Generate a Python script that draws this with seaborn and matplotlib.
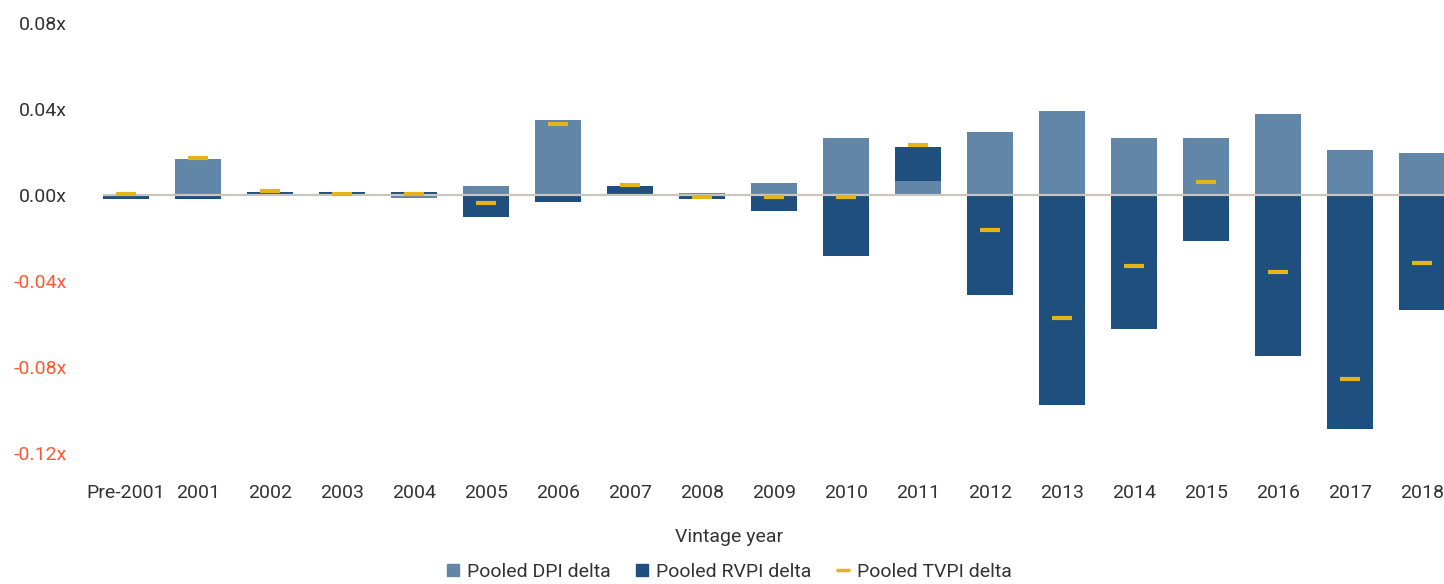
import numpy as np
import pandas as pd
import matplotlib
matplotlib.use("Agg")
import matplotlib.pyplot as plt
import seaborn as sns
from matplotlib import font_manager
from matplotlib.lines import Line2D

# Pooled deltas by vintage year
vintages = ['Pre-2001', '2001', '2002', '2003', '2004', '2005', '2006', '2007', '2008',
            '2009', '2010', '2011', '2012', '2013', '2014', '2015', '2016', '2017', '2018']
dpi_delta = [0.0005, 0.0168, 0.0004, 0.0003, -0.0016, 0.0042, 0.0350, 0.0004, 0.0011,
             0.0056, 0.0266, 0.0065, 0.0294, 0.0393, 0.0266, 0.0266, 0.0379, 0.0210, 0.0196]
rvpi_delta = [-0.0018, -0.0018, 0.0012, 0.0012, 0.0012, -0.0103, -0.0033, 0.0038, -0.0018,
              -0.0075, -0.0285, 0.0159, -0.0467, -0.0977, -0.0621, -0.0215, -0.0748, -0.1089, -0.0537]
tvpi_delta = [0.0006, 0.0174, 0.0019, 0.0006, 0.0006, -0.0037, 0.0332, 0.0046, -0.0009,
              -0.0009, -0.0009, 0.0234, -0.0164, -0.0570, -0.0332, 0.0061, -0.0360, -0.0855, -0.0318]

y_ticks = [-0.12, -0.08, -0.04, 0.0, 0.04, 0.08]

DPI_COLOR = '#6186A8'
RVPI_COLOR = '#1F4F7F'
TVPI_COLOR = '#E2B61A'
TEXT_COLOR = '#333333'
NEG_COLOR = '#FA5A30'

sns.set_theme(style='white')
available = {f.name for f in font_manager.fontManager.ttflist}
font = 'Roboto' if 'Roboto' in available else 'Liberation Sans'
fsize = 14
plt.rcParams['font.family'] = [font, 'DejaVu Sans']

df = pd.DataFrame({'vintage': vintages, 'dpi': dpi_delta, 'rvpi': rvpi_delta, 'tvpi': tvpi_delta})
# Excel-style stacking: positives stack up, negatives stack down
df['pos_top'] = df['dpi'].clip(lower=0) + df['rvpi'].clip(lower=0)
df['neg_bottom'] = df['dpi'].clip(upper=0) + df['rvpi'].clip(upper=0)

fig = plt.figure(figsize=(14.44, 5.84), dpi=100)
ax = fig.add_axes([103 / 1444, 1 - 453 / 584, (1444 - 103) / 1444, 430 / 584])

bar_kw = dict(width=0.64, saturation=1, linewidth=0, ax=ax)
# outer (RVPI) segments first, DPI drawn over them from zero
sns.barplot(data=df, x='vintage', y='pos_top', color=RVPI_COLOR, **bar_kw)
sns.barplot(data=df, x='vintage', y='neg_bottom', color=RVPI_COLOR, **bar_kw)
sns.barplot(data=df, x='vintage', y='dpi', color=DPI_COLOR, **bar_kw)

ax.axhline(0, color='#C9C5C1', linewidth=1.6, zorder=5)

sns.pointplot(data=df, x='vintage', y='tvpi', color=TVPI_COLOR, linestyle='none',
              marker='_', markersize=14, markeredgewidth=3, ax=ax, zorder=6)

ax.set_xlim(-0.32, 18.3)
ax.set_ylim(-0.12, 0.08)
ax.set_yticks(y_ticks)
ax.set_yticklabels([f'{v:.2f}x' for v in y_ticks])
for lbl, v in zip(ax.get_yticklabels(), y_ticks):
    lbl.set_color(NEG_COLOR if v < 0 else TEXT_COLOR)
ax.tick_params(axis='y', length=0, pad=26, labelsize=fsize)
ax.tick_params(axis='x', length=0, pad=22, labelsize=fsize, labelcolor=TEXT_COLOR)
ax.set_xlabel('')
ax.set_ylabel('')
for s in ax.spines.values():
    s.set_visible(False)
ax.grid(False)

fig.text(729 / 1444, 1 - 537 / 584, 'Vintage year', ha='center', va='center',
         fontsize=fsize, color=TEXT_COLOR)

handles = [
    Line2D([], [], marker='s', linestyle='none', color=DPI_COLOR, markersize=9),
    Line2D([], [], marker='s', linestyle='none', color=RVPI_COLOR, markersize=9),
    Line2D([], [], marker='_', linestyle='none', color=TVPI_COLOR, markersize=10, markeredgewidth=2.5),
]
labels = ['Pooled DPI delta', 'Pooled RVPI delta', 'Pooled TVPI delta']
leg = fig.legend(handles, labels, loc='center', bbox_to_anchor=(729 / 1444, 1 - 572 / 584),
                 ncol=3, frameon=False, fontsize=fsize, handlelength=0.7,
                 handletextpad=0.35, columnspacing=1.3, borderaxespad=0)
for t in leg.get_texts():
    t.set_color(TEXT_COLOR)

fig.savefig('out.png', dpi=100)
